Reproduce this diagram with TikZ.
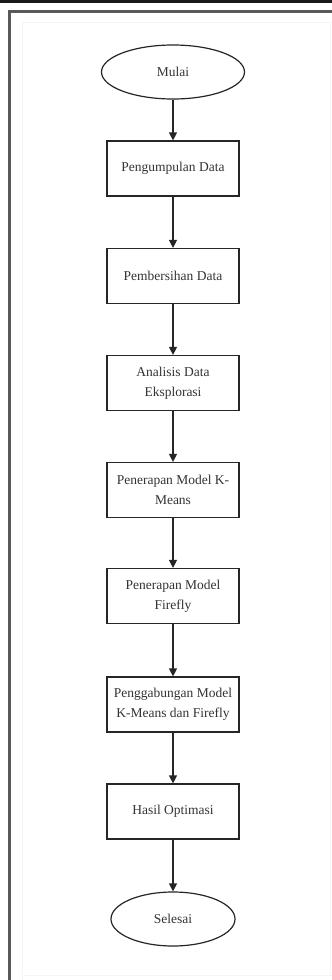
\documentclass[tikz,border=0pt]{standalone}
\usepackage{fontspec}
\setmainfont{Liberation Serif}
\usetikzlibrary{arrows.meta,shapes.geometric}
\begin{document}
\begin{tikzpicture}[x=1pt,y=-1pt,
  procbox/.style={draw=black!85, line width=1.2pt, fill=white, minimum width=132pt, minimum height=55pt, align=center, inner sep=0pt, text=black!80, font=\fontsize{13.5}{20}\selectfont},
  termnode/.style={draw=black!85, line width=1.2pt, fill=white, ellipse, inner sep=0pt, text=black!80, font=\fontsize{13.5}{20}\selectfont},
  flow/.style={draw=black!85, line width=1.2pt, -{Triangle[length=8pt,width=8pt]}}]
\useasboundingbox (0,0) rectangle (332,980);
\fill[white] (0,0) rectangle (332,980);
\fill[black!90] (0,0) rectangle (332,3);
\draw[black!65, line width=3pt] (9.5,980) -- (9.5,11.5) -- (332,11.5);
\draw[black!4, line width=1pt] (22,980) -- (22,22) -- (332,22);
\draw[black!4, line width=1pt] (22,975) -- (332,975);
\draw[black!4, line width=1pt] (330,22) -- (330,975);

\node[termnode, minimum width=143pt, minimum height=54pt] (mulai) at (173,72) {Mulai};
\node[procbox] (b1) at (173,168.5) {Pengumpulan Data};
\node[procbox] (b2) at (173,276) {Pembersihan Data};
\node[procbox] (b3) at (173,383) {Analisis Data\\Eksplorasi};
\node[procbox] (b4) at (173,490) {Penerapan Model K-\\Means};
\node[procbox] (b5) at (173,596) {Penerapan Model\\Firefly};
\node[procbox] (b6) at (173,704.5) {Penggabungan Model\\K-Means dan Firefly};
\node[procbox] (b7) at (173,811.5) {Hasil Optimasi};
\node[termnode, minimum width=124pt, minimum height=54pt] (selesai) at (173,919) {Selesai};

\draw[flow] (mulai) -- (b1);
\draw[flow] (b1) -- (b2);
\draw[flow] (b2) -- (b3);
\draw[flow] (b3) -- (b4);
\draw[flow] (b4) -- (b5);
\draw[flow] (b5) -- (b6);
\draw[flow] (b6) -- (b7);
\draw[flow] (b7) -- (selesai);
\end{tikzpicture}
\end{document}
